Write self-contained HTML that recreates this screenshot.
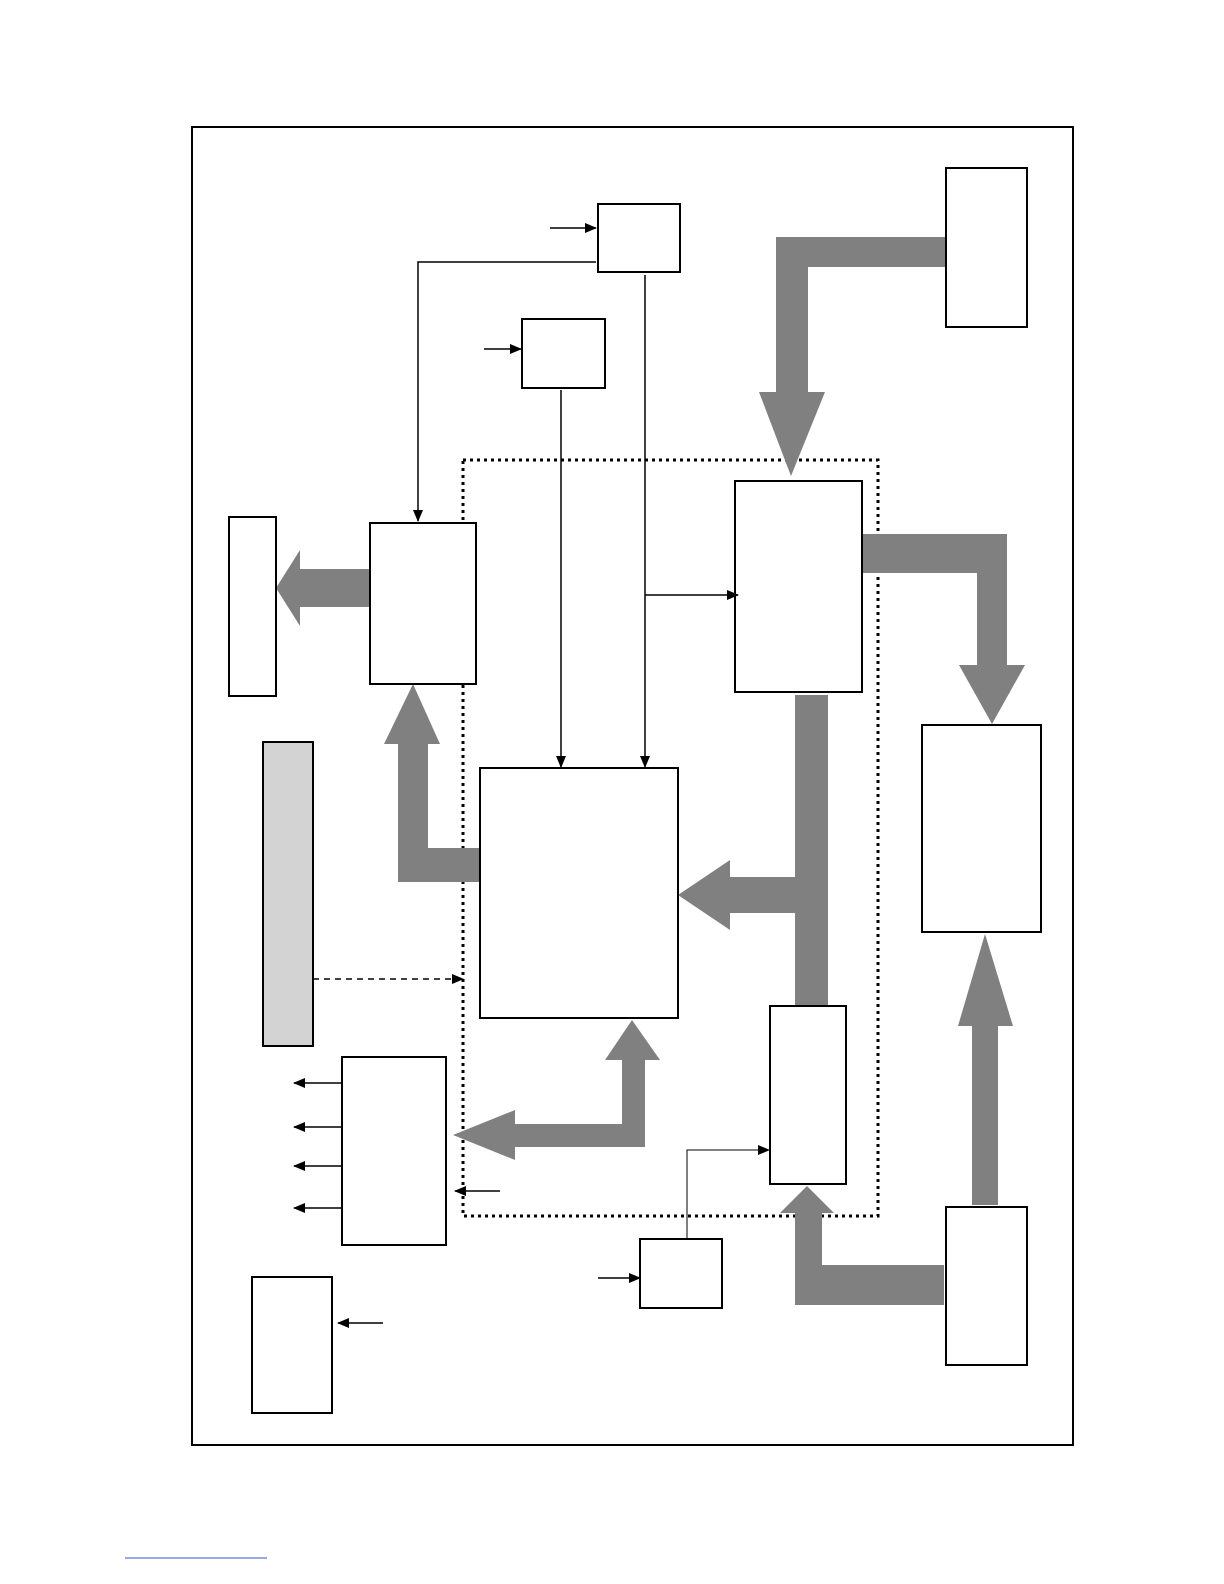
<!DOCTYPE html>
<html><head><meta charset="utf-8"><style>html,body{margin:0;padding:0;background:#fff}svg{display:block}</style></head>
<body>
<svg width="1224" height="1584" viewBox="0 0 1224 1584" xmlns="http://www.w3.org/2000/svg">
<defs>
<marker id="ah" markerWidth="12" markerHeight="10" refX="11" refY="5" orient="auto" markerUnits="userSpaceOnUse">
<path d="M0,0 L12,5 L0,10 Z" fill="#000"/></marker>
</defs>
<rect x="192" y="127" width="881" height="1318" fill="none" stroke="#000" stroke-width="2"/>
<rect x="463" y="460" width="415" height="756" fill="none" stroke="#000" stroke-width="3" stroke-dasharray="3,4"/>
<g fill="#808080">
<!-- C to F -->
<path d="M946,237 L776,237 L776,392 L759,392 L791,476 L825,392 L808,392 L808,267 L946,267 Z"/>
<!-- D to E -->
<path d="M370,569 L300,569 L300,550 L276,588 L300,626 L300,607 L370,607 Z"/>
<!-- I to D -->
<path d="M480,848 L428,848 L428,744 L440,744 L413,684 L384,744 L398,744 L398,882 L480,882 Z"/>
<!-- F to G -->
<path d="M862,534 L1007,534 L1007,665 L1025,665 L992,724 L959,665 L977,665 L977,573 L862,573 Z"/>
<!-- F down to J with branch to I -->
<path d="M795,695 L828,695 L828,1006 L795,1006 L795,913 L730,913 L730,930 L678,895 L730,860 L730,877 L795,877 Z"/>
<!-- M to G -->
<path d="M972,1205 L998,1205 L998,1026 L1013,1026 L985,934 L958,1026 L972,1026 Z"/>
<!-- M to J -->
<path d="M944,1265 L822,1265 L822,1213 L834,1213 L807,1186 L780,1213 L795,1213 L795,1305 L944,1305 Z"/>
<!-- I <-> K -->
<path d="M645,1147 L645,1060 L660,1060 L632,1020 L605,1060 L622,1060 L622,1124 L515,1124 L515,1110 L453,1135 L515,1160 L515,1147 Z"/>
</g>
<g fill="#fff" stroke="#000" stroke-width="2">
<rect x="598" y="204" width="82" height="68"/>
<rect x="522" y="319" width="83" height="69"/>
<rect x="946" y="168" width="81" height="159"/>
<rect x="370" y="523" width="106" height="161"/>
<rect x="229" y="517" width="47" height="179"/>
<rect x="735" y="481" width="127" height="211"/>
<rect x="922" y="725" width="119" height="207"/>
<rect x="263" y="742" width="50" height="304" fill="#d3d3d3"/>
<rect x="480" y="768" width="198" height="250"/>
<rect x="770" y="1006" width="76" height="178"/>
<rect x="342" y="1057" width="104" height="188"/>
<rect x="640" y="1239" width="82" height="69"/>
<rect x="946" y="1207" width="81" height="158"/>
<rect x="252" y="1277" width="80" height="136"/>
</g>
<g stroke="#000" stroke-width="1.5" fill="none">
<line x1="550" y1="228" x2="596" y2="228" marker-end="url(#ah)"/>
<line x1="484" y1="349" x2="521" y2="349" marker-end="url(#ah)"/>
<polyline points="596,262 418,262 418,521" marker-end="url(#ah)"/>
<line x1="561" y1="390" x2="561" y2="767" marker-end="url(#ah)"/>
<line x1="645" y1="275" x2="645" y2="767" marker-end="url(#ah)"/>
<line x1="645" y1="595" x2="738" y2="595" marker-end="url(#ah)"/>
<line x1="313" y1="979" x2="463" y2="979" stroke-dasharray="6,5" marker-end="url(#ah)"/>
<line x1="342" y1="1083" x2="294" y2="1083" marker-end="url(#ah)"/>
<line x1="342" y1="1127" x2="294" y2="1127" marker-end="url(#ah)"/>
<line x1="342" y1="1166" x2="294" y2="1166" marker-end="url(#ah)"/>
<line x1="342" y1="1208" x2="294" y2="1208" marker-end="url(#ah)"/>
<line x1="500" y1="1191" x2="455" y2="1191" marker-end="url(#ah)"/>
<line x1="383" y1="1323" x2="338" y2="1323" marker-end="url(#ah)"/>
<line x1="598" y1="1278" x2="640" y2="1278" marker-end="url(#ah)"/>
<polyline points="687,1239 687,1150 769,1150" stroke-width="1" marker-end="url(#ah)"/>
</g>
<line x1="125" y1="1558" x2="267" y2="1558" stroke="#3355cc" stroke-width="1"/>
</svg>
</body></html>
